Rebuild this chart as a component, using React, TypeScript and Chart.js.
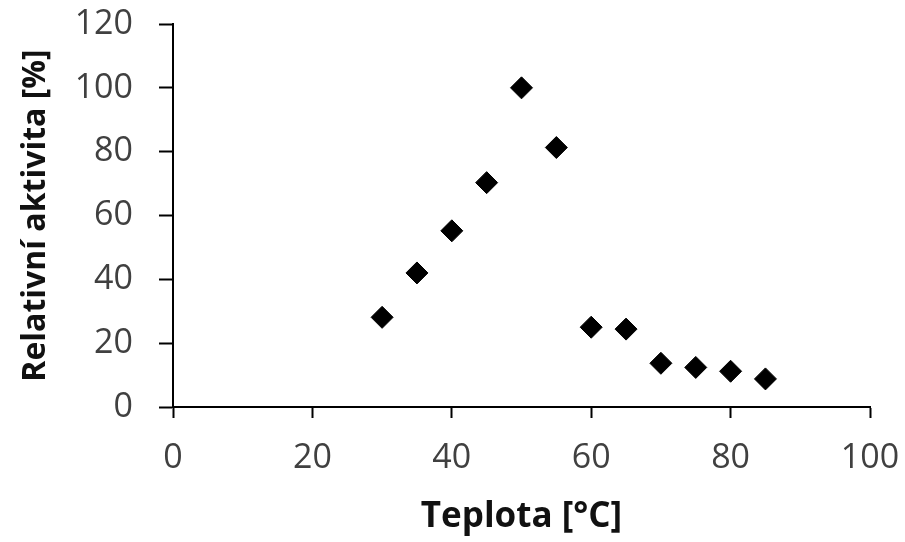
import React, { useEffect, useRef } from "react";
import { Chart, registerables } from "chart.js";

Chart.register(...registerables);

const temperatures = [30, 35, 40, 45, 50, 55, 60, 65, 70, 75, 80, 85];
const activity = [28.1, 42, 55.2, 70.3, 100, 81.3, 25, 24.4, 13.7, 12.4, 11.2, 8.8];
const xTitle = "Teplota [°C]";
const yTitle = "Relativní aktivita [%]";

export default function App() {
  const ref = useRef<HTMLCanvasElement | null>(null);
  useEffect(() => {
    if (!ref.current) return;
    const font = "'Open Sans', Lato, sans-serif";
    const chart = new Chart(ref.current, {
      type: "scatter",
      data: {
        datasets: [
          {
            data: temperatures.map((t, i) => ({ x: t, y: activity[i] })),
            pointStyle: "rectRot",
            pointRadius: 11,
            backgroundColor: "#000",
            borderColor: "#000",
            borderWidth: 1,
          },
        ],
      },
      options: {
        animation: false,
        responsive: false,
        maintainAspectRatio: false,
        plugins: { legend: { display: false }, tooltip: { enabled: false } },
        layout: { padding: { top: 24, right: 35, left: 0, bottom: 0 } },
        scales: {
          x: {
            type: "linear",
            min: 0,
            max: 100,
            afterFit: (s: any) => { s.height = 135; s.paddingLeft = 0; s.paddingRight = 0; },
            ticks: { stepSize: 20, color: "#404040", font: { family: font, size: 34 }, padding: 20 },
            grid: { drawOnChartArea: false, tickLength: 11, color: "#000", tickWidth: 2 },
            border: { color: "#000", width: 2 },
            title: { display: true, text: xTitle, color: "#111", font: { family: font, size: 35, weight: "bold" }, padding: { top: 0 } },
          },
          y: {
            min: 0,
            max: 120,
            afterFit: (s: any) => { s.width = 173; s.paddingTop = 0; s.paddingBottom = 0; },
            ticks: { stepSize: 20, color: "#404040", font: { family: font, size: 34 }, padding: 26 },
            grid: { drawOnChartArea: false, tickLength: 14, color: "#000", tickWidth: 2 },
            border: { color: "#000", width: 2 },
            title: { display: true, text: yTitle, color: "#111", font: { family: font, size: 32, weight: "bold" }, padding: { top: 17, bottom: 0 } },
          },
        },
      },
    });
    return () => chart.destroy();
  }, []);
  return (
    <div style={{ position: "fixed", left: 0, top: 0, width: 905, height: 542, background: "#fff" }}>
      <canvas ref={ref} width={905} height={542} />
    </div>
  );
}
